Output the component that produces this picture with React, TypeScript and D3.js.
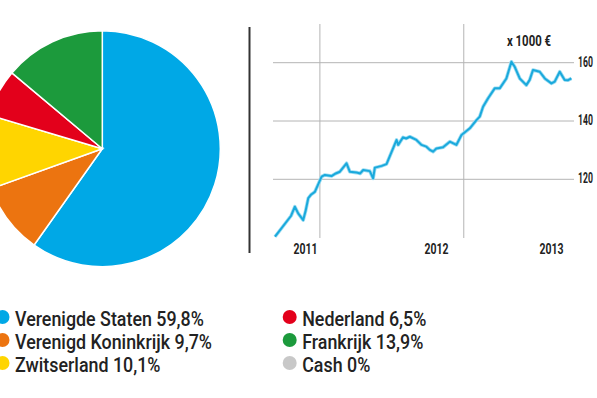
import * as d3 from 'd3';
import React, { useEffect, useRef } from 'react';

// pie: country allocation (clockwise from 12 o'clock)
const countries = ["Verenigde Staten", "Verenigd Koninkrijk", "Zwitserland", "Nederland", "Frankrijk", "Cash"];
const shares = [59.8, 9.7, 10.1, 6.5, 13.9, 0];
const countryColors = ["#00a8e6", "#ec7410", "#ffd500", "#e3001b", "#1c9a3c", "#c8c8c8"];

// line: fund value, x in fractional years, y in x 1000 €
const years = [2011.188, 2011.30, 2011.326, 2011.349, 2011.384, 2011.40, 2011.419, 2011.44, 2011.465, 2011.512,
  2011.535, 2011.581, 2011.61, 2011.639, 2011.685, 2011.708, 2011.755, 2011.78, 2011.801, 2011.847, 2011.870,
  2011.882, 2011.93, 2011.963, 2012.033, 2012.044, 2012.078, 2012.10, 2012.125, 2012.171, 2012.206, 2012.24,
  2012.264, 2012.287, 2012.310, 2012.356, 2012.403, 2012.449, 2012.484, 2012.542, 2012.588, 2012.611, 2012.634,
  2012.669, 2012.715, 2012.750, 2012.796, 2012.831, 2012.854, 2012.889, 2012.935, 2012.958, 2012.981, 2013.028,
  2013.063, 2013.109, 2013.132, 2013.167, 2013.201, 2013.225, 2013.248];
const values = [100.3, 107.5, 110.6, 108.3, 106.0, 109.0, 113.5, 114.8, 115.7, 120.9,
  121.5, 121.1, 122.0, 122.6, 125.5, 122.6, 122.3, 122.0, 123.2, 122.8, 120.3,
  124.0, 124.6, 125.2, 133.5, 131.8, 134.4, 134.0, 134.6, 133.5, 131.8, 131.2,
  130.1, 129.5, 130.6, 131.0, 132.9, 131.8, 135.2, 137.5, 140.3, 141.5, 144.9,
  147.8, 151.2, 151.2, 154.6, 160.3, 158.6, 154.6, 152.3, 154.1, 157.5, 156.9,
  154.6, 152.9, 153.5, 156.9, 154.1, 154.0, 154.6];

const yTicks = [120, 140, 160];
const gridYears = [2011.5, 2012.5];
const yearLabels = ["2011", "2012", "2013"];
const yearLabelPos = [2011.40, 2012.31, 2013.11];

const fmtShare = (v: number) => (v === 0 ? "0" : v.toFixed(1).replace(".", ",")) + "%";

export default function App() {
  const ref = useRef<SVGSVGElement>(null);

  useEffect(() => {
    const svg = d3.select(ref.current);
    svg.selectAll("*").remove();

    const narrow = "'Liberation Sans Narrow', 'Roboto', 'DejaVu Sans', sans-serif";

    // ---- pie ----
    const pie = d3.pie<number>().sort(null).value(d => d);
    const arc = d3.arc<d3.PieArcDatum<number>>().innerRadius(0).outerRadius(118);
    svg.append("g")
      .attr("transform", "translate(102.3,148.7)")
      .selectAll("path")
      .data(pie(shares).filter(d => d.value > 0))
      .enter()
      .append("path")
      .attr("d", arc)
      .attr("fill", d => countryColors[d.index])
      .attr("stroke", "#fff")
      .attr("stroke-width", 1.5);

    // ---- line chart ----
    const x = d3.scaleLinear().domain([2011.188, 2013.273]).range([275, 575]);
    const y = d3.scaleLinear().domain([120, 160]).range([179.3, 62.7]);

    const g = svg.append("g");

    g.selectAll(".hgrid")
      .data(yTicks)
      .enter()
      .append("line")
      .attr("x1", 273).attr("x2", 574)
      .attr("y1", d => y(d)).attr("y2", d => y(d))
      .attr("stroke", "#b4b4b4").attr("stroke-width", 1);

    g.selectAll(".vgrid")
      .data(gridYears)
      .enter()
      .append("line")
      .attr("x1", d => x(d)).attr("x2", d => x(d))
      .attr("y1", 24).attr("y2", 238)
      .attr("stroke", "#b4b4b4").attr("stroke-width", 1);

    // left separator axis
    g.append("line")
      .attr("x1", 249.5).attr("x2", 249.5)
      .attr("y1", 27).attr("y2", 253)
      .attr("stroke", "#333").attr("stroke-width", 2);

    const line = d3.line<number>()
      .x((d, i) => x(years[i]))
      .y(d => y(d));

    // soft halo under the line, as in the print
    g.append("path")
      .datum(values)
      .attr("d", line)
      .attr("fill", "none")
      .attr("stroke", "#9bdcf2")
      .attr("stroke-width", 3.6)
      .attr("stroke-linejoin", "round");

    g.append("path")
      .datum(values)
      .attr("d", line)
      .attr("fill", "none")
      .attr("stroke", "#1aa9dc")
      .attr("stroke-width", 2)
      .attr("stroke-linejoin", "round");

    // y tick labels, squeezed so they fit at the right edge
    g.selectAll(".ytick")
      .data(yTicks)
      .enter()
      .append("text")
      .attr("transform", d => `translate(578,${y(d) + 4}) scale(0.62,1)`)
      .attr("font-family", narrow)
      .attr("font-weight", "bold")
      .attr("font-size", 14)
      .attr("fill", "#222")
      .text(d => d);

    g.selectAll(".year")
      .data(yearLabels)
      .enter()
      .append("text")
      .attr("x", (d, i) => x(yearLabelPos[i]))
      .attr("y", 254)
      .attr("text-anchor", "middle")
      .attr("font-family", narrow)
      .attr("font-weight", "bold")
      .attr("font-size", 15)
      .attr("fill", "#222")
      .attr("textLength", 24)
      .attr("lengthAdjust", "spacingAndGlyphs")
      .text(d => d);

    g.append("text")
      .attr("x", 507)
      .attr("y", 46)
      .attr("font-family", narrow)
      .attr("font-weight", "bold")
      .attr("font-size", 14)
      .attr("fill", "#222")
      .attr("textLength", 44)
      .attr("lengthAdjust", "spacingAndGlyphs")
      .text("x 1000 €");

    // ---- legend ----
    const legend = svg.append("g");
    const items = legend.selectAll("g")
      .data(countries)
      .enter()
      .append("g")
      .attr("transform", (d, i) => `translate(${i < 3 ? 2.5 : 289.7},${325.5 + (i % 3) * 23})`);

    items.append("circle")
      .attr("cx", 0).attr("cy", -8.5).attr("r", 7)
      .attr("fill", (d, i) => countryColors[i]);

    const labels = items.append("text")
      .attr("x", 0)
      .attr("y", 0)
      .attr("font-family", narrow)
      .attr("font-size", 21)
      .attr("font-weight", 500)
      .attr("fill", "#222")
      .text((d, i) => `${d} ${fmtShare(shares[i])}`);

    // condensed look: squeeze so the first label is as wide as in the print
    const firstNode = labels.node() as SVGTextElement | null;
    const w = firstNode ? firstNode.getComputedTextLength() : 189;
    const sx = w > 0 ? Math.min(1, 189 / w) : 1;
    labels.attr("transform", `translate(12.5,0) scale(${sx},1)`);
  }, []);

  return (
    <svg ref={ref} width={597} height={398}
      style={{ position: 'absolute', left: 0, top: 0, background: '#fff' }} />
  );
}
